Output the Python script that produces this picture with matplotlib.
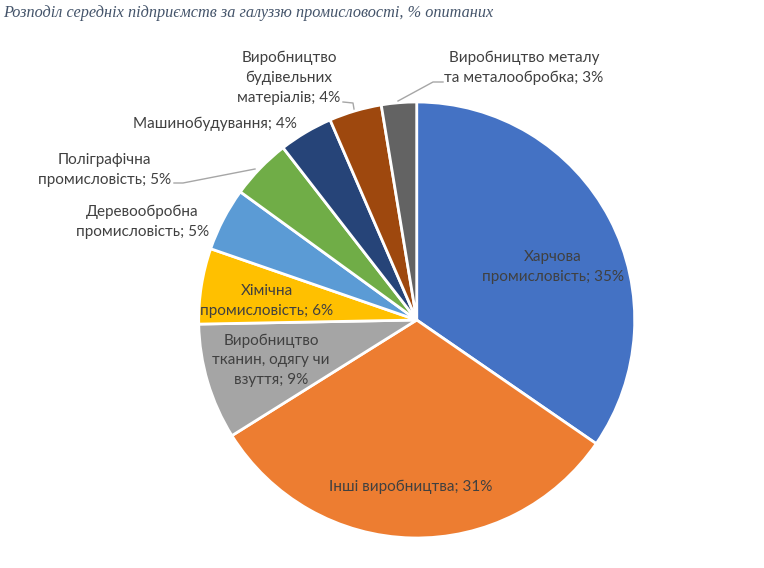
import matplotlib
matplotlib.use("Agg")
import matplotlib.pyplot as plt

title = "Розподіл середніх підприємств за галуззю промисловості, % опитаних"
categories = [
    "Харчова\nпромисловість",
    "Інші виробництва",
    "Виробництво\nтканин, одягу чи\nвзуття",
    "Хімічна\nпромисловість",
    "Деревообробна\nпромисловість",
    "Поліграфічна\nпромисловість",
    "Машинобудування",
    "Виробництво\nбудівельних\nматеріалів",
    "Виробництво металу\nта металообробка",
]
shares = [34.6, 31.5, 8.6, 5.6, 4.7, 4.5, 4.0, 3.9, 2.6]
pct_labels = ["35%", "31%", "9%", "6%", "5%", "5%", "4%", "4%", "3%"]
colors = ["#4472C4", "#ED7D31", "#A5A5A5", "#FFC000", "#5B9BD5",
          "#70AD47", "#264478", "#9E480E", "#636363"]

W, H = 764, 568
fig = plt.figure(figsize=(W / 100, H / 100), dpi=100)
ax = fig.add_axes([0, 0, 1, 1])

def py(y):
    return H - y

cx, cy, r = 416.7, py(320), 218
ax.pie(shares, colors=colors, startangle=90, counterclock=False,
       center=(cx, cy), radius=r, frame=True,
       wedgeprops=dict(edgecolor="white", linewidth=2))
ax.set_xlim(0, W)
ax.set_ylim(0, H)
ax.set_aspect("equal")
ax.axis("off")

font = "Lato"
tc = "#404040"
fs = 11
# label layout positions (pixel coords)
pos = [(553, 267), (411, 487), (271, 360), (267, 301), (142.5, 222),
       (104.5, 170), (215, 124), (289, 78), (524, 68)]
for cat, pct, (x, y) in zip(categories, pct_labels, pos):
    ax.text(x, py(y), f"{cat}; {pct}", ha="center", va="center",
            fontsize=fs, family=font, color=tc, linespacing=1.5)

lc = "#A6A6A6"
ax.plot([174, 183, 255], [py(183), py(183), py(169)], color=lc, lw=1)
ax.plot([343, 353, 354], [py(102), py(103), py(109)], color=lc, lw=1)
ax.plot([443, 433, 398], [py(82), py(82), py(101)], color=lc, lw=1)

ax.text(3, py(13), title, ha="left", va="center", fontsize=11.7,
        family="Liberation Serif", style="italic", color="#44546A")

fig.savefig("out.png", dpi=100)
